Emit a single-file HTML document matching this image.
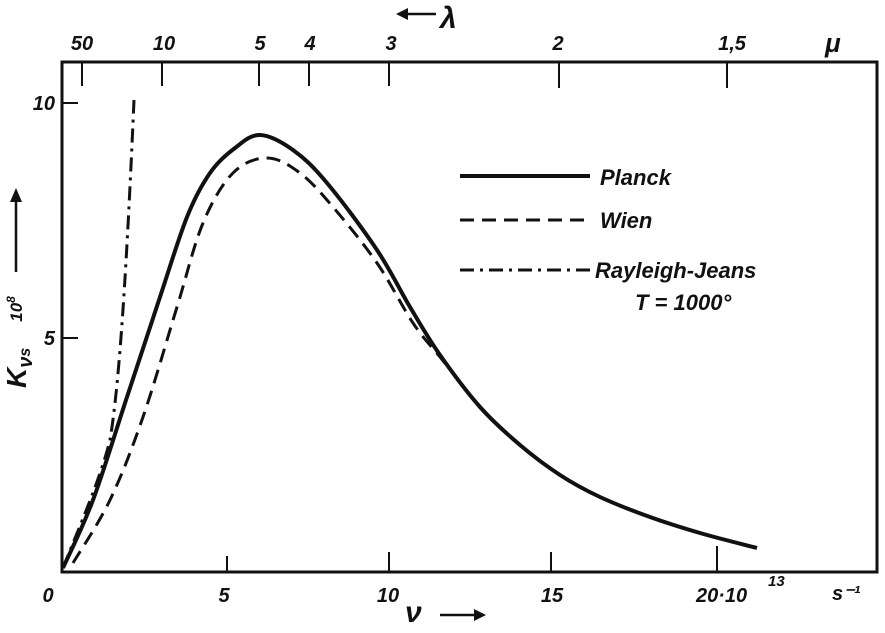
<!DOCTYPE html>
<html><head><meta charset="utf-8"><style>
html,body{margin:0;padding:0;background:#fff;}
svg{display:block;}
text{font-family:"Liberation Sans",sans-serif;font-style:italic;font-weight:bold;fill:#111;}
</style></head><body>
<svg width="885" height="633" viewBox="0 0 885 633" xmlns="http://www.w3.org/2000/svg">
<g stroke="#111" fill="none">
<rect x="62" y="62" width="815" height="510" stroke-width="3"/>
<path d="M82 62v24M162 62v24M259 62v24M309 62v24M389 62v24M559 62v26M727 62v26" stroke-width="2"/>
<path d="M227 572v-16M389 572v-20M551 572v-20M717 572v-26" stroke-width="2"/>
<path d="M62 103h16M62 338h16" stroke-width="2"/>
<path stroke-width="4" d="M63 568 C68 556.7,82.3 528.5,93 500 C103.7 471.5,115.8 430.8,127 397 C138.2 363.2,150 327,160 297 C170 267,178.7 237.7,187 217 C195.3 196.3,202 184.5,210 173 C218 161.5,226.7 154.3,235 148 C243.3 141.7,250.3 134.7,260 135 C269.7 135.3,281.8 142,293 150 C304.2 158,313 166.3,327 183 C341 199.7,363.2 229.3,377 250 C390.8 270.7,399.5 289.5,410 307 C420.5 324.5,428.3 338.3,440 355 C451.7 371.7,466.7 392,480 407 C493.3 422,506.7 433.7,520 445 C533.3 456.3,546.7 466.3,560 475 C573.3 483.7,585 490,600 497 C615 504,633.3 511,650 517 C666.7 523,682.2 527.8,700 533 C717.8 538.2,747.5 545.5,757 548"/>
<path stroke-width="3" stroke-dasharray="14 8" d="M73 563 C79.2 552.5,98.3 524.3,110 500 C121.7 475.7,131.8 449.2,143 417 C154.2 384.8,167 339.3,177 307 C187 274.7,193.7 245.3,203 223 C212.3 200.7,222.3 183.8,233 173 C243.7 162.2,255.8 158,267 158 C278.2 158,289 164.8,300 173 C311 181.2,320.2 192,333 207 C345.8 222,363.7 243.7,377 263 C390.3 282.3,402.5 307.3,413 323 C423.5 338.7,431.8 346.7,440 357 C448.2 367.3,458.3 380.3,462 385"/>
<path stroke-width="3" stroke-dasharray="14 6 3 6" d="M63 568 C80 525,100 480,110 440 C120 380,127 260,134 100"/>
<path d="M460 176h130" stroke-width="4"/>
<path d="M460 220h130" stroke-width="3" stroke-dasharray="14 8"/>
<path d="M460 270h130" stroke-width="3" stroke-dasharray="14 6 3 6"/>
<path d="M400 14h36" stroke-width="2.5"/>
<path d="M440 615h40" stroke-width="2.5"/>
<path d="M16 272v-72" stroke-width="2.5"/>
</g>
<path d="M396 14l12 -6v12z" fill="#111"/>
<path d="M486 615l-12 -6v12z" fill="#111"/>
<path d="M16 188l-6 14h12z" fill="#111"/>
<g font-size="22">
<text x="600" y="185">Planck</text>
<text x="600" y="228">Wien</text>
<text x="595" y="278">Rayleigh-Jeans</text>
<text x="635" y="310">T = 1000°</text>
</g>
<g font-size="20" text-anchor="middle">
<text x="82" y="50">50</text><text x="164" y="50">10</text><text x="260" y="50">5</text>
<text x="310" y="50">4</text><text x="391" y="50">3</text><text x="558" y="50">2</text>
<text x="732" y="50">1,5</text>
<text x="48" y="602">0</text><text x="224" y="602">5</text><text x="388" y="602">10</text>
<text x="552" y="602">15</text>
</g>
<text x="696" y="602" font-size="20">20·10</text>
<text x="768" y="586" font-size="15">13</text>
<text x="832" y="600" font-size="20">s⁻¹</text>
<text x="825" y="52" font-size="26" font-family="Liberation Serif">μ</text>
<text x="440" y="28" font-size="30" font-family="Liberation Serif">λ</text>
<text x="405" y="622" font-size="30" font-family="Liberation Serif">ν</text>
<g font-size="20" text-anchor="end">
<text x="55" y="110">10</text><text x="55" y="345">5</text>
</g>
<text transform="translate(26 388) rotate(-90)" font-size="28" font-family="Liberation Serif">K<tspan font-size="20" dy="6">ν</tspan><tspan font-size="16" dy="-2">s</tspan><tspan font-size="17" dy="-8" dx="26">10</tspan><tspan font-size="12" dy="-7">8</tspan></text>
</svg>
</body></html>
